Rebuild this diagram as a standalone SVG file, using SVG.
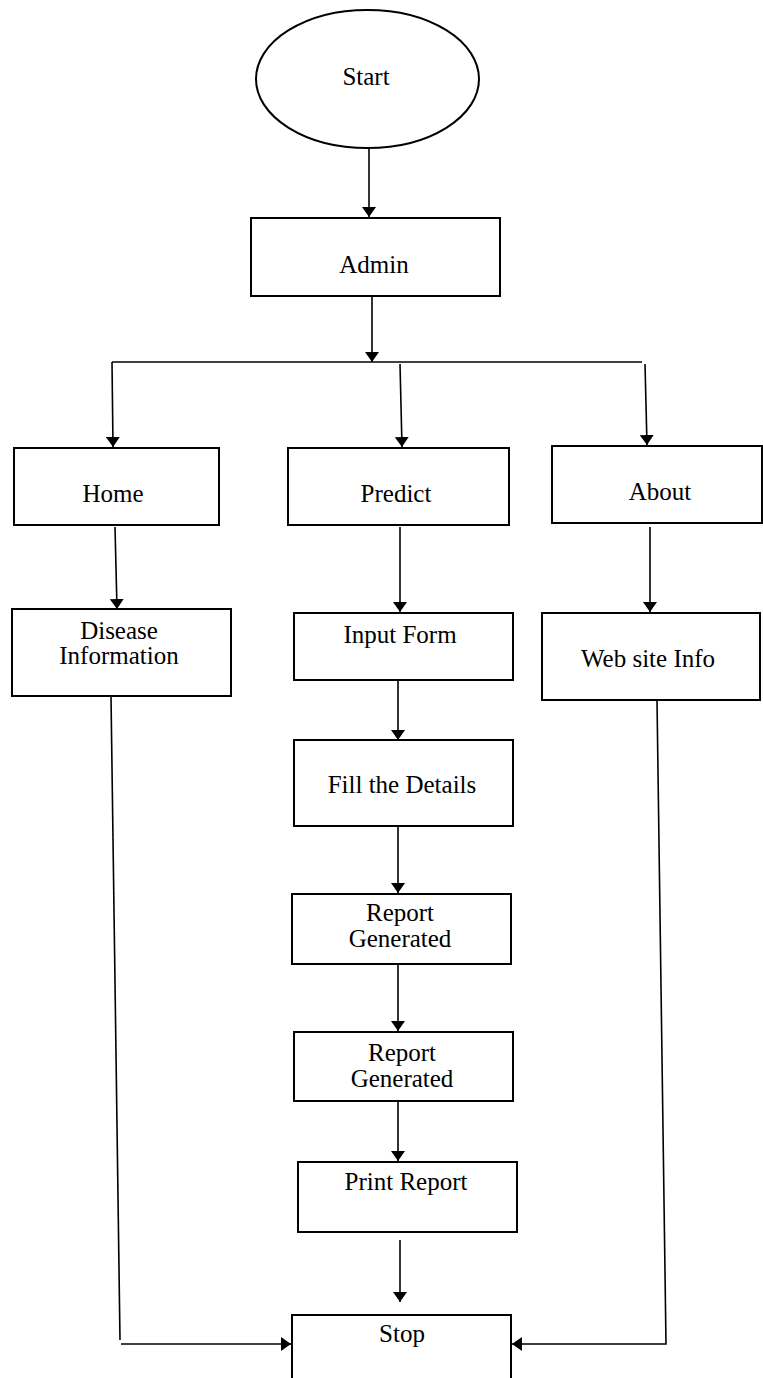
<svg xmlns="http://www.w3.org/2000/svg" width="763" height="1378" viewBox="0 0 763 1378">
<defs>
<marker id="ah" viewBox="0 0 10 14" refX="10" refY="7" markerWidth="10" markerHeight="14" markerUnits="userSpaceOnUse" orient="auto">
<path d="M0,0 L10,7 L0,14 Z" fill="#000"/>
</marker>
<style>
.box{fill:#fff;stroke:#000;stroke-width:2}
.t{font-family:"Liberation Serif","Times New Roman",serif;font-size:25px;fill:#000;text-anchor:middle}
.c{fill:none;stroke:#000;stroke-width:1.6}
.a{marker-end:url(#ah)}
</style>
</defs>
<rect width="763" height="1378" fill="#fff"/>
<g id="connectors">
<line class="c a" x1="369" y1="148" x2="369" y2="217"/>
<line class="c a" x1="372" y1="296" x2="372" y2="362"/>
<line class="c" x1="112" y1="362" x2="642" y2="362"/>
<line class="c a" x1="112" y1="362" x2="113" y2="447"/>
<line class="c a" x1="400" y1="364" x2="402" y2="447"/>
<line class="c a" x1="645" y1="364" x2="647" y2="445"/>
<line class="c a" x1="115" y1="527" x2="117" y2="609"/>
<line class="c a" x1="400" y1="527" x2="400" y2="612"/>
<line class="c a" x1="650" y1="527" x2="650" y2="612"/>
<line class="c a" x1="398" y1="680" x2="398" y2="740"/>
<line class="c a" x1="398" y1="826" x2="398" y2="893"/>
<line class="c a" x1="398" y1="964" x2="398" y2="1031"/>
<line class="c a" x1="398" y1="1101" x2="398" y2="1161"/>
<line class="c a" x1="400" y1="1240" x2="400" y2="1302"/>
<line class="c" x1="111" y1="696" x2="120" y2="1340"/>
<line class="c a" x1="121" y1="1344" x2="291" y2="1344"/>
<polyline class="c a" points="657,700 666,1344 512,1344"/>
</g>
<g id="start">
<ellipse cx="367.5" cy="79" rx="111.5" ry="69" class="box"/>
<text class="t" x="366" y="85">Start</text>
</g>
<g id="admin">
<rect class="box" x="251" y="218" width="249" height="78"/>
<text class="t" x="374" y="273">Admin</text>
</g>
<g id="home">
<rect class="box" x="14" y="448" width="205" height="77"/>
<text class="t" x="113" y="502">Home</text>
</g>
<g id="predict">
<rect class="box" x="288" y="448" width="221" height="77"/>
<text class="t" x="396" y="502">Predict</text>
</g>
<g id="about">
<rect class="box" x="552" y="446" width="210" height="77"/>
<text class="t" x="660" y="500">About</text>
</g>
<g id="disease">
<rect class="box" x="12" y="609" width="219" height="87"/>
<text class="t" x="119" y="639">Disease</text>
<text class="t" x="119" y="664">Information</text>
</g>
<g id="inputform">
<rect class="box" x="294" y="613" width="219" height="67"/>
<text class="t" x="400" y="643">Input Form</text>
</g>
<g id="website">
<rect class="box" x="542" y="613" width="218" height="87"/>
<text class="t" x="648" y="667">Web site Info</text>
</g>
<g id="fill">
<rect class="box" x="294" y="740" width="219" height="86"/>
<text class="t" x="402" y="793">Fill the Details</text>
</g>
<g id="report1">
<rect class="box" x="292" y="894" width="219" height="70"/>
<text class="t" x="400" y="921">Report</text>
<text class="t" x="400" y="947">Generated</text>
</g>
<g id="report2">
<rect class="box" x="294" y="1032" width="219" height="69"/>
<text class="t" x="402" y="1061">Report</text>
<text class="t" x="402" y="1087">Generated</text>
</g>
<g id="print">
<rect class="box" x="298" y="1162" width="219" height="70"/>
<text class="t" x="406" y="1190">Print Report</text>
</g>
<g id="stop">
<rect class="box" x="292" y="1315" width="219" height="80"/>
<text class="t" x="402" y="1342">Stop</text>
</g>
</svg>
